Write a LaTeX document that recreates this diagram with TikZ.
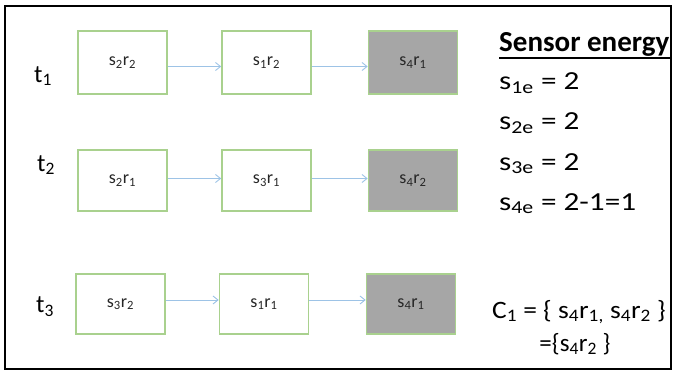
\documentclass[tikz,border=0pt]{standalone}
\usepackage{fontspec}
\usepackage{graphicx}
\setmainfont{Carlito}
\usetikzlibrary{arrows.meta}
\definecolor{boxgreen}{HTML}{A9D18E}
\definecolor{boxgray}{HTML}{A6A6A6}
\definecolor{arrowblue}{HTML}{9DC3E6}
\newcommand{\sbs}[1]{\textsubscript{#1}}
\newcommand{\wide}[2]{\scalebox{#1}[1]{#2}}
\begin{document}
\begin{tikzpicture}[x=1pt,y=-1pt,
  cell/.style={draw=boxgreen,line width=1.6pt,minimum width=89pt,minimum height=63pt,inner sep=0pt,font=\fontsize{18}{20}\selectfont,text=black!85},
  grayc/.style={cell,fill=boxgray},
  flow/.style={draw=arrowblue,line width=0.9pt,-{Straight Barb[length=5pt,width=8pt]}},
  tlab/.style={font=\fontsize{25}{28}\selectfont,inner sep=0pt},
  etxt/.style={anchor=base west,inner sep=0pt,font=\fontsize{26}{30}\selectfont},
  ctxt/.style={anchor=base,inner sep=0pt,font=\fontsize{25}{28}\selectfont}]
\useasboundingbox (0,0) rectangle (676,374);
\draw[line width=2.8pt] (5,6) rectangle (671,369);
% row 1
\node[cell]  (a1) at (122.5,62.5) {s\sbs{2}r\sbs{2}};
\node[cell]  (b1) at (266.5,62.5) {s\sbs{1}r\sbs{2}};
\node[grayc] (c1) at (413,62.5) {s\sbs{4}r\sbs{1}};
% row 2
\node[cell,minimum height=61pt]  (a2) at (122.5,180.5) {s\sbs{2}r\sbs{1}};
\node[cell,minimum height=61pt]  (b2) at (266.5,180.5) {s\sbs{3}r\sbs{1}};
\node[grayc,minimum height=61pt] (c2) at (413,180.5) {s\sbs{4}r\sbs{2}};
% row 3
\node[cell,minimum height=60pt]  (a3) at (120.5,304) {s\sbs{3}r\sbs{2}};
\node[cell,minimum height=60pt]  (b3) at (264,304) {s\sbs{1}r\sbs{1}};
\node[grayc,minimum height=60pt] (c3) at (411,304) {s\sbs{4}r\sbs{1}};
% arrows
\draw[flow] ([yshift=-4pt]a1.east) -- ([yshift=-4pt]b1.west);
\draw[flow] ([yshift=-4pt]b1.east) -- ([yshift=-4pt]c1.west);
\draw[flow] ([yshift=2pt]a2.east) -- ([yshift=2pt]b2.west);
\draw[flow] ([yshift=2pt]b2.east) -- ([yshift=2pt]c2.west);
\draw[flow] ([yshift=4pt]a3.east) -- ([yshift=4pt]b3.west);
\draw[flow] ([yshift=4pt]b3.east) -- ([yshift=4pt]c3.west);
% time labels
\node[tlab] (t1) at (43,76) {t\sbs{1}};
\node[tlab] (t2) at (46,165) {t\sbs{2}};
\node[tlab] (t3) at (45,307) {t\sbs{3}};
% sensor energy
\node[etxt,font=\fontsize{29}{32}\selectfont\bfseries] (se) at (499,52) {Sensor energy};
\draw[line width=1.4pt] ([yshift=-6pt]se.base west) -- ([yshift=-6pt]se.base east);
\node[etxt] (e1) at (499,90) {\wide{1.2}{s\sbs{1e} = 2}};
\node[etxt] (e2) at (499,130) {\wide{1.2}{s\sbs{2e} = 2}};
\node[etxt] (e3) at (499,170) {\wide{1.2}{s\sbs{3e} = 2}};
\node[etxt] (e4) at (499,210) {\wide{1.2}{s\sbs{4e} = 2-1=1}};
% C1
\node[ctxt] (cA) at (579,318) {\wide{1.1}{C\sbs{1} = \{ s\sbs{4}r\sbs{1,} s\sbs{4}r\sbs{2} \}}};
\node[ctxt] (cB) at (575,351) {=\{s\sbs{4}r\sbs{2} \}};
\end{tikzpicture}
\end{document}
